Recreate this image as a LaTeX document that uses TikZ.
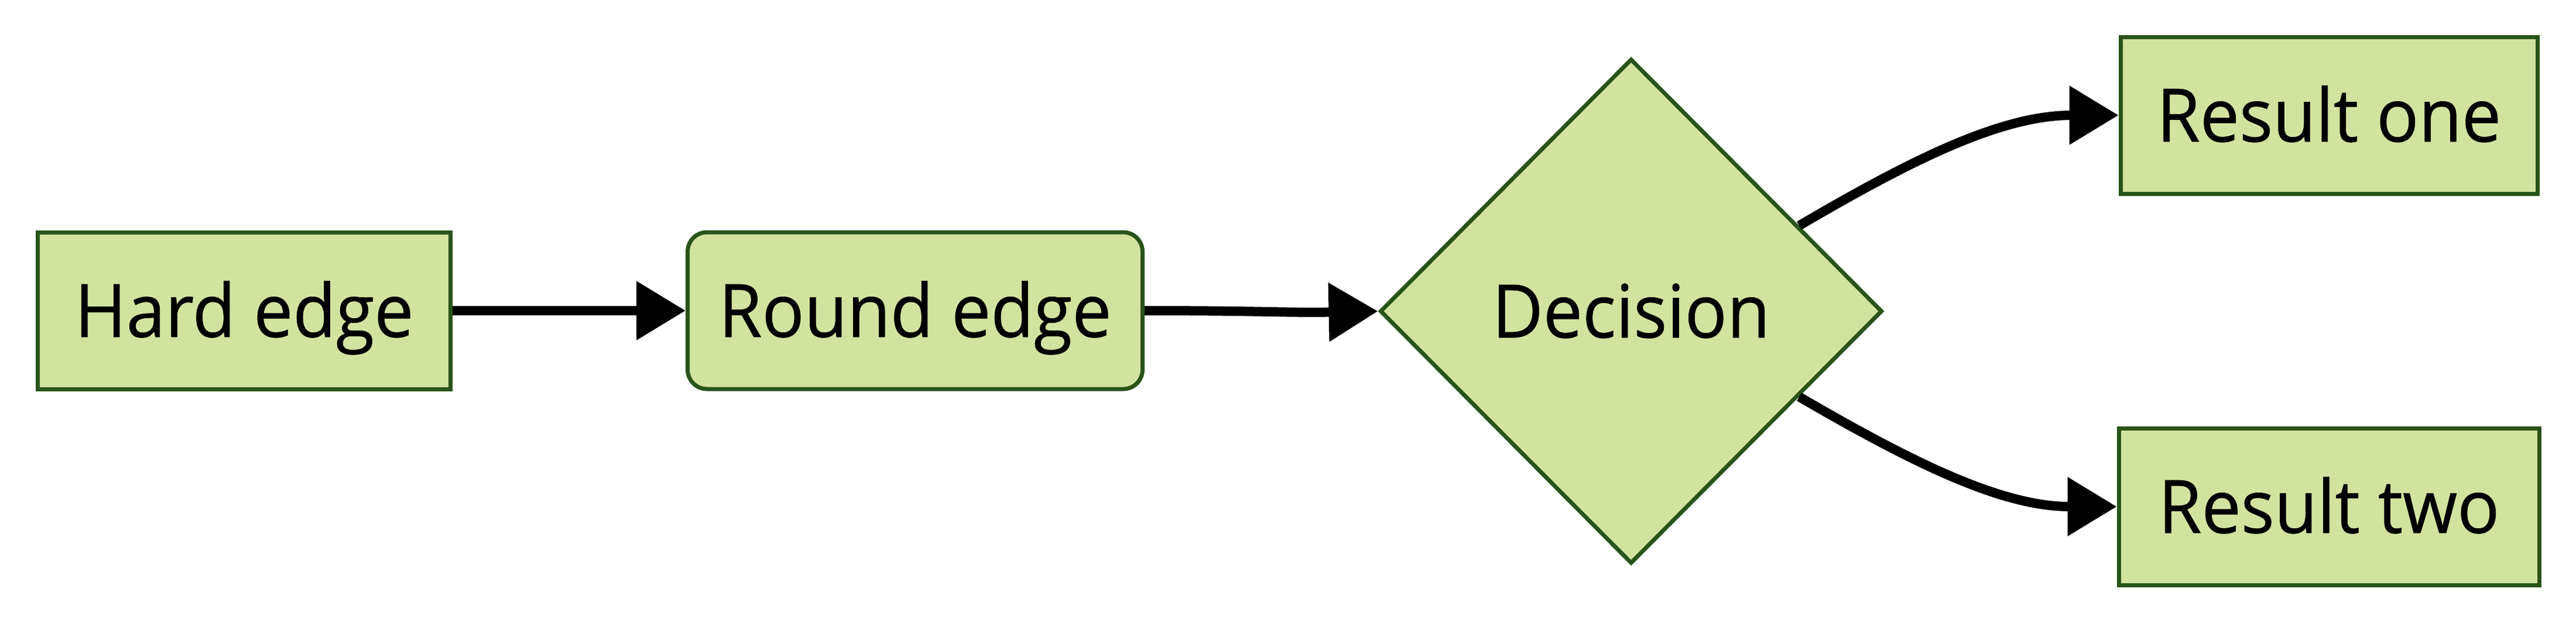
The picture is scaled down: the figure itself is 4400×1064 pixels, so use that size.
\documentclass[tikz,border=0pt]{standalone}
\usepackage{fontspec}
\setmainfont[FakeStretch=0.95,FakeBold=0.6]{Open Sans}
\usetikzlibrary{shapes.geometric,arrows.meta}
\definecolor{nodefill}{RGB}{210,227,160}
\definecolor{nodeline}{RGB}{41,84,25}
\begin{document}
\begin{tikzpicture}[x=0.1pt,y=-0.1pt,
  base/.style={draw=nodeline, fill=nodefill, line width=0.7pt, inner sep=0pt,
    font=\fontsize{12.6pt}{15pt}\selectfont, text height=9pt, text depth=0pt},
  boxnode/.style={base, rectangle, minimum height=26.8pt},
  roundnode/.style={boxnode, rounded corners=3.3pt},
  decnode/.style={base, diamond, minimum width=85.8pt, minimum height=86.3pt},
  conn/.style={line width=1.6pt, -{Triangle[length=8.4pt,width=9.7pt]}}]
\useasboundingbox (0,0) rectangle (4400,1064);
\node[boxnode, minimum width=70.5pt] (hard) at (417,531) {Hard edge};
\node[roundnode, minimum width=77.7pt] (round) at (1563,531) {Round edge};
\node[decnode] (dec) at (2786,532) {Decision};
\node[boxnode, minimum width=71.2pt] (res1) at (3978,197) {Result one};
\node[boxnode, minimum width=71.8pt] (res2) at (3978,866) {Result two};
\draw[conn] (hard.east) -- (round.west);
\draw[conn] (round.east) .. controls (2150,531) and (2200,535) .. (dec.west);
\draw[conn] (dec.27) .. controls (3270,270) and (3420,197) .. (res1.west);
\draw[conn] (dec.-27) .. controls (3270,793) and (3420,866) .. (res2.west);
\end{tikzpicture}
\end{document}
